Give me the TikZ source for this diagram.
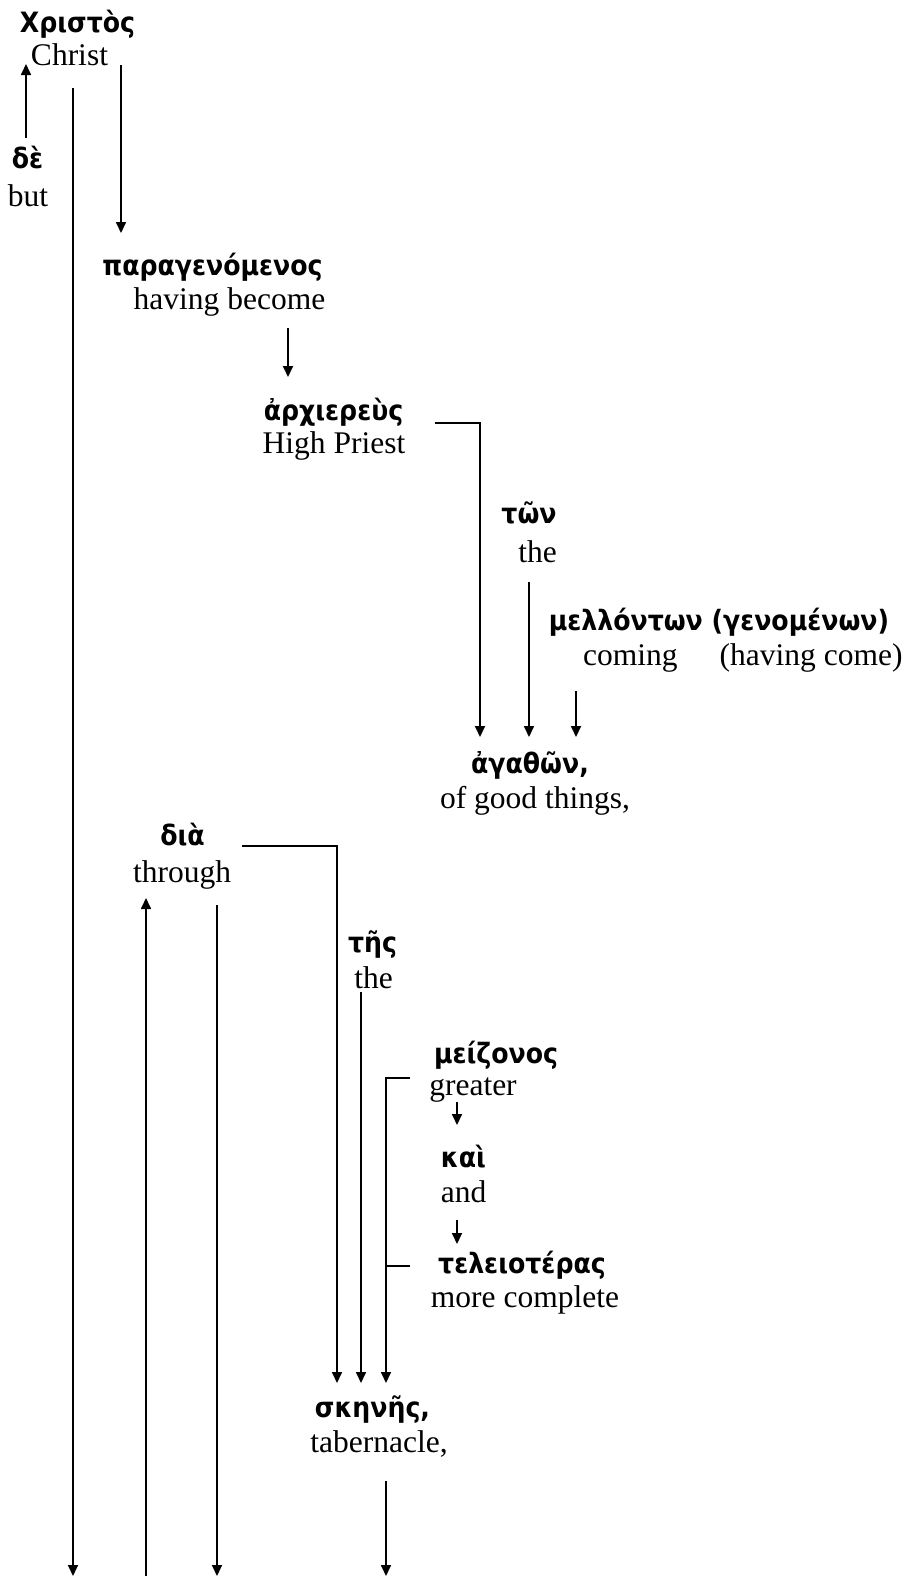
\documentclass[tikz,border=0pt]{standalone}
\usepackage{fontspec}
\setmainfont{Liberation Serif}
\newfontfamily\grfont{DejaVu Sans Condensed}[BoldFont={DejaVu Sans Condensed Bold}]
\usetikzlibrary{arrows.meta,calc}
\tikzset{
  gk/.style={inner sep=0pt, anchor=base, font=\grfont\bfseries\fontsize{28}{32}\selectfont},
  en/.style={inner sep=0pt, anchor=base, font=\fontsize{31.5}{36}\selectfont},
  conn/.style={line width=1.7pt},
  arr/.style={conn, -{Triangle[width=10pt,length=11pt]}}
}
\begin{document}
\begin{tikzpicture}[x=1pt,y=-1pt]
\useasboundingbox (0,0) rectangle (909,1577);
\coordinate (bot) at (0,1576);
% words
\node[gk] (gchrist) at (77.5,32) {Χριστὸς};
\node[en] (echrist) at (69.5,65) {Christ};
\node[gk] (gde) at (27.5,168) {δὲ};
\node[en] (ede) at (28,206) {but};
\node[gk] (gpara) at (212.5,275) {παραγενόμενος};
\node[en] (epara) at (229.5,309) {having become};
\node[gk] (garch) at (333.5,420) {ἀρχιερεὺς};
\node[en] (earch) at (334,453) {High Priest};
\node[gk] (gton) at (529,523) {τῶν};
\node[en] (eton) at (537.5,562) {the};
\node[gk] (gmell) at (719,630) {μελλόντων (γενομένων)};
\node[en, anchor=base west] (emell) at (583,665) {coming\hspace{42pt}(having come)};
\node[gk] (gagath) at (530,773) {ἀγαθῶν,};
\node[en] (eagath) at (535,808) {of good things,};
\node[gk] (gdia) at (182.5,845) {διὰ};
\node[en] (edia) at (182,882) {through};
\node[gk] (gtes) at (372.5,952) {τῆς};
\node[en] (etes) at (373.5,988) {the};
\node[gk] (gmeiz) at (496,1063) {μείζονος};
\node[en] (emeiz) at (473,1095) {greater};
\node[gk] (gkai) at (463.5,1167) {καὶ};
\node[en] (ekai) at (463.5,1202) {and};
\node[gk] (gtel) at (522,1273) {τελειοτέρας};
\node[en] (etel) at (525,1307) {more complete};
\node[gk] (gsk) at (372.5,1417) {σκηνῆς,};
\node[en] (esk) at (379,1452) {tabernacle,};
% connectors
\draw[arr] ($(gde.base)+(-1.5,-30)$) -- ($(echrist.base)+(-43.5,-1)$);
\draw[arr] ($(echrist.base)+(51.5,0)$) -- ($(gpara.base)+(-91.5,-42)$);
\draw[arr] ($(echrist.base)+(3.5,23)$) coordinate (s3) -- (s3 |- bot);
\draw[arr] ($(epara.base)+(58.5,19)$) -- ($(garch.base)+(-45.5,-43)$);
\draw[arr] ($(garch.base)+(101.5,3)$) -| ($(gagath.base)+(-50,-36)$);
\draw[arr] ($(eton.base)+(-8.5,20)$) -- ($(gagath.base)+(-1,-36)$);
\draw[arr] ($(emell.base west)+(-7,26)$) -- ($(gagath.base)+(46,-36)$);
\draw[arr] ($(gdia.base)+(59.5,1)$) -| ($(gsk.base)+(-35.5,-34)$);
\draw[arr] ($(etes.base)+(-12.5,4)$) -- ($(gsk.base)+(-11.5,-34)$);
\draw[arr] ($(emeiz.base)+(-63,-17)$) -| ($(gsk.base)+(13.5,-34)$) coordinate (s10);
\draw[conn] ($(gtel.base)+(-112,-7)$) coordinate (s10b) -- (s10b -| s10);
\draw[arr] ($(emeiz.base)+(-16,7)$) -- ($(gkai.base)+(-6.5,-42)$);
\draw[arr] ($(ekai.base)+(-6.5,18)$) -- ($(gtel.base)+(-65,-29)$);
\draw[arr] ($(edia.base)+(-36,16)$) coordinate (s13) (s13 |- bot) -- (s13);
\draw[arr] ($(edia.base)+(35,23)$) coordinate (s14) -- (s14 |- bot);
\draw[arr] ($(esk.base)+(7,29)$) coordinate (s15) -- (s15 |- bot);
\end{tikzpicture}
\end{document}
